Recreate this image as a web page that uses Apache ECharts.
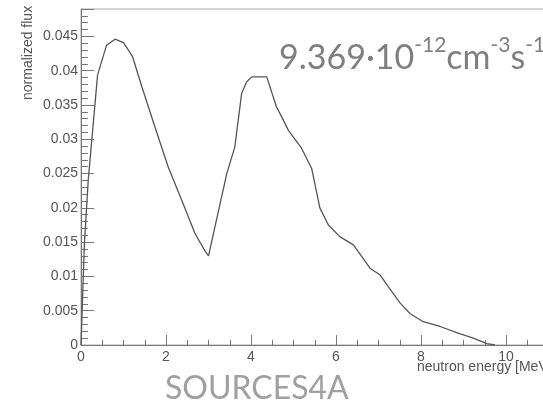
<!DOCTYPE html>
<html>
<head>
<meta charset="utf-8">
<script src="https://cdn.jsdelivr.net/npm/echarts@6/dist/echarts.min.js"></script>
<style>
html,body{margin:0;padding:0;background:#fff;}
#c{width:543px;height:407px;}
</style>
</head>
<body>
<div id="c"></div>
<script>
// neutron energy [MeV]
var energy = [0, 0.08, 0.17, 0.39, 0.60, 0.80, 1.00, 1.21, 1.43, 1.74, 2.05, 2.37, 2.68, 2.92, 3.00,
  3.43, 3.62, 3.78, 3.90, 4.02, 4.37, 4.60, 4.72, 4.88, 5.19, 5.43, 5.62, 5.82, 6.09, 6.41,
  6.80, 7.04, 7.23, 7.51, 7.74, 8.05, 8.45, 8.84, 9.23, 9.55, 9.74];
// normalized flux
var flux = [0, 0.0148, 0.0240, 0.0394, 0.0437, 0.0446, 0.0441, 0.0421, 0.0377, 0.0318, 0.0260, 0.0211, 0.0163, 0.0137, 0.0130,
  0.0250, 0.0289, 0.0367, 0.0384, 0.0391, 0.0391, 0.0347, 0.0333, 0.0313, 0.0287, 0.0257, 0.0200, 0.0175, 0.0158, 0.0146,
  0.0112, 0.0102, 0.0085, 0.0061, 0.0046, 0.0034, 0.0027, 0.0018, 0.0010, 0.0002, 0];
var xTicks = [0, 2, 4, 6, 8, 10, 12];
var yTicks = [0, 0.005, 0.01, 0.015, 0.02, 0.025, 0.03, 0.035, 0.04, 0.045];
var fluxText = ['9.369·10', '-12', 'cm', '-3', 's', '-1'];
var sourceLabel = 'SOURCES4A';
var xName = 'neutron energy [MeV]';
var yName = 'normalized flux';

var chart = echarts.init(document.getElementById('c'), null, {renderer: 'canvas'});
var pts = energy.map(function (e, i) { return [e, flux[i]]; });
var lab = {color: '#555', fontFamily: 'Liberation Sans', fontSize: 14};
chart.setOption({
  animation: false,
  grid: {left: 81, top: 9, width: 510, height: 336, outerBoundsMode: 'none', containLabel: false,
    show: true, borderColor: '#aaa', borderWidth: 1, backgroundColor: 'transparent'},
  xAxis: {
    type: 'value', min: xTicks[0], max: xTicks[xTicks.length - 1], interval: 2,
    axisLine: {show: true, lineStyle: {color: '#777', width: 1}},
    axisTick: {show: true, inside: true, length: 10, lineStyle: {color: '#777'}},
    minorTick: {show: true, splitNumber: 4, length: 5, lineStyle: {color: '#777'}},
    splitLine: {show: false},
    axisLabel: Object.assign({margin: 5}, lab)
  },
  yAxis: {
    type: 'value', min: yTicks[0], max: 0.049, interval: 0.005,
    axisLine: {show: true, lineStyle: {color: '#777', width: 1}},
    axisTick: {show: true, inside: true, length: 13, lineStyle: {color: '#777'}},
    minorTick: {show: true, splitNumber: 5, length: 7, lineStyle: {color: '#777'}},
    splitLine: {show: false},
    axisLabel: Object.assign({margin: 3, showMaxLabel: false}, lab)
  },
  series: [{
    type: 'line', data: pts, symbol: 'none', smooth: false,
    lineStyle: {color: '#555', width: 1.3}
  }],
  graphic: [
    {type: 'text', x: 28, y: 100, rotation: Math.PI / 2,
      style: {text: yName, fill: '#555', font: '14px "Liberation Sans"', textAlign: 'left', textVerticalAlign: 'middle'}},
    {type: 'text', x: 417, y: 367,
      style: {text: xName, fill: '#555', font: '14px "Liberation Sans"', textAlign: 'left', textVerticalAlign: 'middle'}},
    {type: 'text', x: 279, y: 55,
      style: {
        text: '{a|' + fluxText[0] + '}{s|' + fluxText[1] + '}{a|' + fluxText[2] + '}{s|' + fluxText[3] + '}{a|' + fluxText[4] + '}{s|' + fluxText[5] + '}',
        textVerticalAlign: 'middle', textAlign: 'left',
        rich: {
          a: {fontFamily: 'Lato', fontSize: 34, fill: '#7f7f7f', color: '#7f7f7f', verticalAlign: 'bottom', lineHeight: 40},
          s: {fontFamily: 'Lato', fontSize: 21, fill: '#7f7f7f', color: '#7f7f7f', verticalAlign: 'top', lineHeight: 40, padding: [0, 0, 14, 0]}
        }
      }},
    {type: 'text', x: 165, y: 389,
      style: {text: sourceLabel, fill: '#a0a0a0', font: '32px Lato', textAlign: 'left', textVerticalAlign: 'middle'}}
  ]
});
</script>
</body>
</html>
